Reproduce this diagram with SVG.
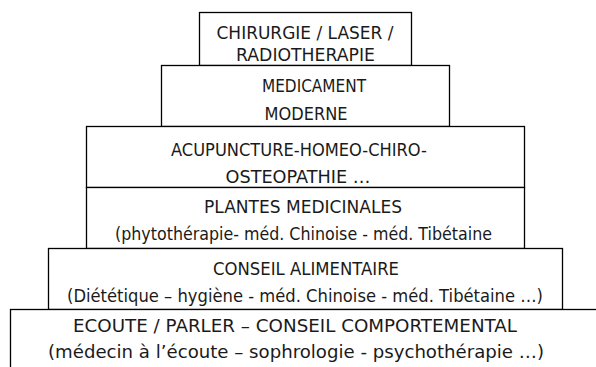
<svg xmlns="http://www.w3.org/2000/svg" width="596" height="367" viewBox="0 0 596 367">
<style>
.box{fill:#fff;stroke:#000;stroke-width:1.3}
text{font-family:"DejaVu Sans","Liberation Sans",sans-serif;font-size:17.5px;fill:#1a1a1a;text-anchor:middle}
</style>
<rect width="596" height="367" fill="#fff"/>
<g id="level1">
<rect class="box" x="199.5" y="12.5" width="212" height="53"/>
<text x="305" y="39" textLength="177" lengthAdjust="spacingAndGlyphs">CHIRURGIE / LASER /</text>
<text x="305.5" y="61" textLength="139" lengthAdjust="spacingAndGlyphs">RADIOTHERAPIE</text>
</g>
<g id="level2">
<rect class="box" x="161.5" y="65.5" width="288" height="61"/>
<text x="314" y="92" textLength="104" lengthAdjust="spacingAndGlyphs">MEDICAMENT</text>
<text x="306" y="120" textLength="83" lengthAdjust="spacingAndGlyphs">MODERNE</text>
</g>
<g id="level3">
<rect class="box" x="86.5" y="126.5" width="438" height="61"/>
<text x="299" y="156" textLength="256" lengthAdjust="spacingAndGlyphs">ACUPUNCTURE-HOMEO-CHIRO-</text>
<text x="298" y="183" textLength="145" lengthAdjust="spacingAndGlyphs">OSTEOPATHIE …</text>
</g>
<g id="level4">
<rect class="box" x="86.5" y="187.5" width="438" height="61"/>
<text x="303" y="213" textLength="198" lengthAdjust="spacingAndGlyphs">PLANTES MEDICINALES</text>
<text x="303.5" y="240" textLength="377" lengthAdjust="spacingAndGlyphs">(phytothérapie- méd. Chinoise - méd. Tibétaine</text>
</g>
<g id="level5">
<rect class="box" x="48.5" y="248.5" width="514" height="61"/>
<text x="306" y="275" textLength="186" lengthAdjust="spacingAndGlyphs">CONSEIL ALIMENTAIRE</text>
<text x="305" y="302" textLength="476" lengthAdjust="spacingAndGlyphs">(Diététique – hygiène - méd. Chinoise - méd. Tibétaine …)</text>
</g>
<g id="level6">
<rect class="box" x="10.5" y="309.5" width="600" height="70"/>
<text x="295" y="332" textLength="444" lengthAdjust="spacingAndGlyphs">ECOUTE / PARLER – CONSEIL COMPORTEMENTAL</text>
<text x="296" y="358" textLength="496" lengthAdjust="spacingAndGlyphs">(médecin à l’écoute – sophrologie - psychothérapie …)</text>
</g>
</svg>
